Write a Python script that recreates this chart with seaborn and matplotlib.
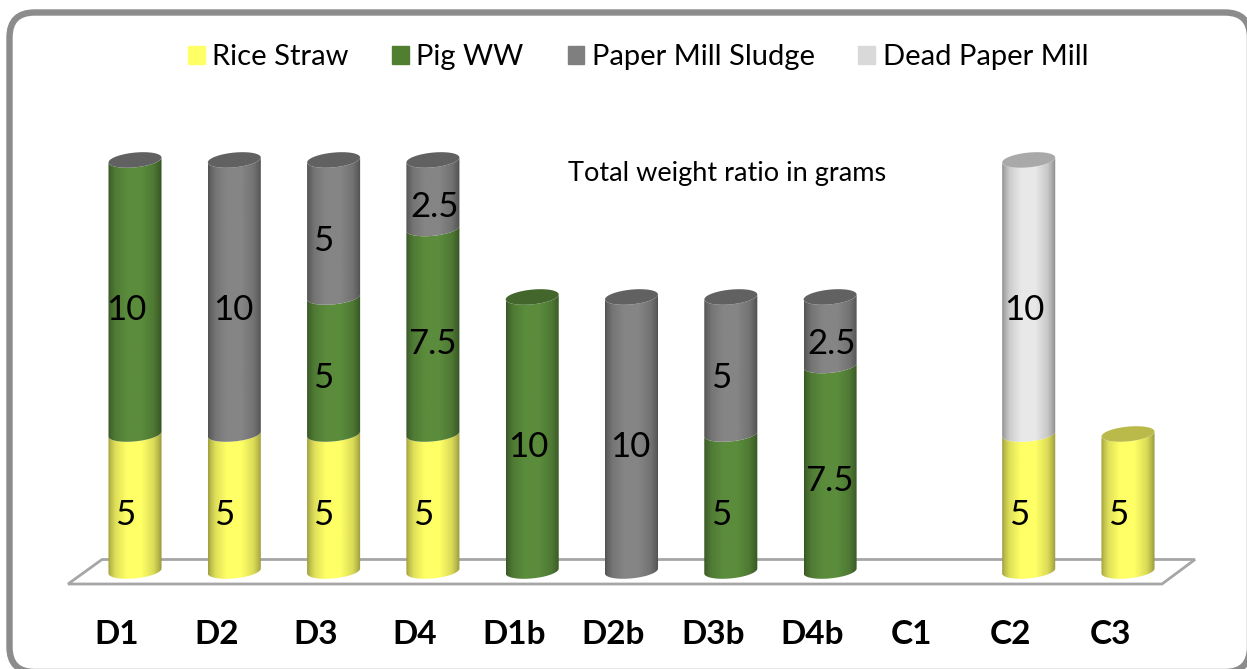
#!/usr/bin/env python
# -*- coding: utf-8 -*-

import numpy as np

import matplotlib
matplotlib.use("Agg")
import matplotlib.pyplot as plt
from matplotlib.patches import FancyBboxPatch, Patch, PathPatch, Polygon
from matplotlib.path import Path
from matplotlib.transforms import ScaledTranslation
import seaborn as sns

# # # # # chart values # # # # #

SAMPLES = ["D1", "D2", "D3", "D4", "D1b", "D2b", "D3b", "D4b", "C1", "C2", "C3"]
RICE_STRAW = [5, 5, 5, 5, 0, 0, 0, 0, 0, 5, 5]
PIG_WW = [10, 0, 5, 7.5, 10, 0, 5, 7.5, 0, 0, 0]
PAPER_SLUDGE = [0, 10, 5, 2.5, 0, 10, 5, 2.5, 0, 0, 0]
DEAD_PAPER = [0, 0, 0, 0, 0, 0, 0, 0, 0, 10, 0]
SERIES_NAMES = ["Rice Straw", "Pig WW", "Paper Mill Sludge", "Dead Paper Mill"]
NOTE = "Total weight ratio in grams"

# # # # # style # # # # #

COLORS = ["#ffff66", "#5b8c3c", "#858585", "#e8e8e8"]
LEGEND_COLORS = ["#ffff66", "#4f7f2f", "#7f7f7f", "#d9d9d9"]
# series whose colour the top cap of each stack takes
CAP_SERIES = [2, 2, 2, 2, 1, 2, 2, 2, None, 3, 0]
WIDTH = 0.534
ELL_B = 0.27 # half height of the bar ellipse in data units
ELL_S = 0.09 # tilt of the ellipse in data units

W, H = 1247, 669

sns.set_theme(style="white")
plt.rcParams['font.family'] = ['Lato', 'DejaVu Sans']


def px(x, y):
    # pixel position (from top left) to figure fraction
    return x / W, 1 - y / H


def arc(cx, cy, half, start, stop):
    t = np.linspace(start, stop, 40)
    return np.column_stack([cx + half * np.cos(t), cy + ELL_B * np.sin(t) + ELL_S * np.cos(t)])


def shaded(color, n=120):
    # horizontal cylinder shading of one colour
    pos = [0, 0.05, 0.14, 0.35, 0.62, 0.85, 0.95, 1]
    val = [0.62, 0.74, 0.88, 1.0, 1.0, 0.86, 0.7, 0.58]
    shade = np.interp(np.linspace(0, 1, n), pos, val)
    return shade[None, :, None] * np.array(matplotlib.colors.to_rgb(color))


def label_offset(sample, height):
    # the value labels sit a little left of the bar centre
    if height == 5:
        return -10
    if sample == "D1":
        return -9
    if sample in ("D1b", "C2"):
        return -4
    if height == 2.5:
        return 2
    return -1


def main():

    fig = plt.figure(figsize=(W / 100, H / 100), dpi=100, facecolor="white")

    # rounded frame, runs off the right and bottom of the picture
    frame = FancyBboxPatch((9.5, H - 672), 1250 - 9.5, 659.5, transform=None,
        boxstyle="round,pad=0,rounding_size=25", fc="white", ec="#8c8c8c", lw=4.6, zorder=-2)
    fig.add_artist(frame)

    # floor of the chart
    floor = [px(68, 584), px(1162, 584), px(1195, 559.5), px(102, 559.5)]
    fig.add_artist(Polygon(floor, closed=True, transform=fig.transFigure, fc="white",
        ec="#a6a6a6", lw=2, joinstyle="miter", zorder=-1))

    left, right = 85.35, 1177.65
    top, base = 129.0, 571.0
    ax = fig.add_axes([left / W, 1 - base / H, (right - left) / W, (base - top) / H])
    ax.patch.set_alpha(0)

    # stacked bars through seaborn
    all_series = [RICE_STRAW, PIG_WW, PAPER_SLUDGE, DEAD_PAPER]
    bottom = np.zeros(len(SAMPLES))
    segments = []
    for s, values in enumerate(all_series):
        before = len(ax.patches)
        sns.barplot(x=SAMPLES, y=values, bottom=bottom, color=COLORS[s], width=WIDTH,
            saturation=1, ax=ax)
        for bar in ax.patches[before:]:
            segments.append((bar, s))
        bottom = bottom + np.array(values, dtype=float)

    ax.set_xlim(-0.5, 10.5)
    ax.set_ylim(0, 16.13)

    # replace rectangles by cylinder sides
    for bar, s in segments:
        height = bar.get_height()
        bar.set_visible(False)
        if height <= 0:
            continue
        x0, y0 = bar.get_x(), bar.get_y()
        half = bar.get_width() / 2
        cx = x0 + half
        low = arc(cx, y0, half, np.pi, 2 * np.pi)
        up = arc(cx, y0 + height, half, 0, -np.pi)
        clip = PathPatch(Path(np.vstack([low, up, low[:1]])), transform=ax.transData)
        im = ax.imshow(shaded(COLORS[s]), extent=[x0, x0 + 2 * half, y0 - 1, y0 + height + 1],
            aspect="auto", zorder=3 + s, interpolation="bilinear")
        im.set_clip_path(clip)
        # the front arc of the bar foot hangs below the axes
        im.set_clip_box(fig.bbox)

        # value label
        offset = label_offset(SAMPLES[int(round(cx))], height)
        ax.annotate("{:g}".format(height), (cx, y0 + height / 2), xytext=(offset * 0.72, -13 * 0.72),
            textcoords="offset points", ha="center", va="center", fontsize=25, color="black",
            zorder=10, annotation_clip=False)

    # top caps
    total = bottom
    for i, s in enumerate(CAP_SERIES):
        if s is None:
            continue
        half = WIDTH / 2
        ring = arc(i, total[i], half, 0, 2 * np.pi)
        cap = matplotlib.colors.to_rgb(COLORS[s])
        ax.add_patch(Polygon(ring, closed=True, fc=tuple(c * 0.73 for c in cap), ec="none",
            zorder=8, clip_on=False))

    # axes
    sns.despine(ax=ax, left=True, bottom=True)
    ax.set_yticks([])
    ax.tick_params(axis="x", length=0, pad=35.5)
    ax.set_xticks(range(len(SAMPLES)))
    ax.set_xticklabels(SAMPLES, fontsize=24, fontweight="bold", color="black")
    ax.set_xlabel("")

    # the sample names sit left of their bars
    shift = ScaledTranslation(-18 / 100, 0, fig.dpi_scale_trans)
    for tick_label in ax.get_xticklabels():
        tick_label.set_transform(tick_label.get_transform() + shift)

    # legend
    handles = [Patch(color=c, label=n) for c, n in zip(LEGEND_COLORS, SERIES_NAMES)]
    fig.legend(handles=handles, loc="center", bbox_to_anchor=px(638, 57), ncol=4, frameon=False,
        fontsize=21, handlelength=0.58, handleheight=0.58, handletextpad=0.25, columnspacing=1.5,
        labelcolor="black")

    fig.text(*px(727, 174), NOTE, ha="center", va="center", fontsize=19.5, color="black")

    fig.savefig("out.png", dpi=100)


if __name__ == '__main__':
    main()
